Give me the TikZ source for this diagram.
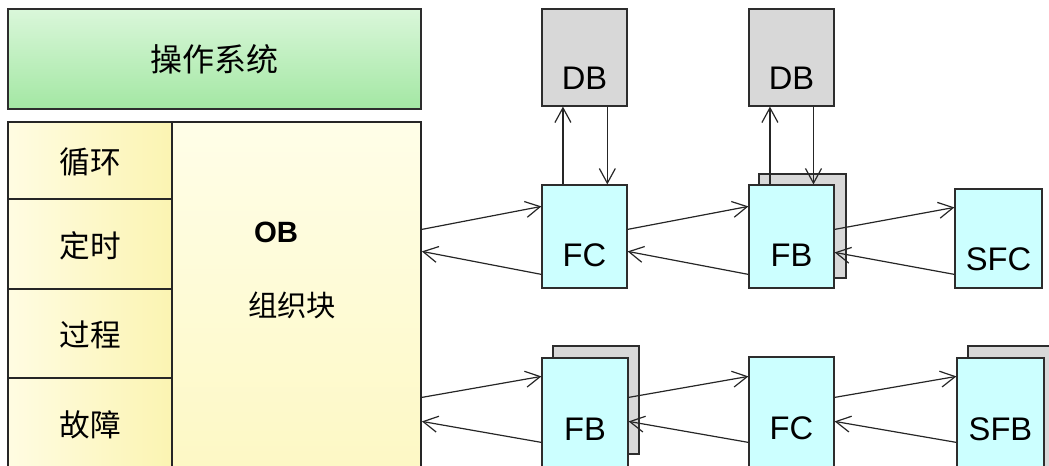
\documentclass[tikz,border=0pt]{standalone}
\usepackage{fontspec}
\setmainfont{Liberation Sans}
\newfontfamily\cjk{Noto Sans CJK SC}
\usetikzlibrary{arrows.meta,fit,calc}
\definecolor{osTop}{RGB}{218,247,218}
\definecolor{osBot}{RGB}{163,231,163}
\definecolor{cellL}{RGB}{255,252,226}
\definecolor{cellR}{RGB}{251,244,178}
\definecolor{obTop}{RGB}{255,254,232}
\definecolor{obBot}{RGB}{253,248,196}
\definecolor{cyanF}{RGB}{204,255,255}
\definecolor{grayF}{RGB}{216,216,216}
\definecolor{edge}{RGB}{45,45,45}
\begin{document}
\begin{tikzpicture}[x=0.75pt,y=-0.75pt,
  box/.style={draw=edge, line width=0.9pt, inner sep=0pt},
  cyanbox/.style={box, fill=cyanF},
  graybox/.style={box, fill=grayF},
  osbox/.style={box, line width=1.1pt, top color=osTop, bottom color=osBot},
  cellbox/.style={box, line width=1.3pt, draw=black!85, left color=cellL, right color=cellR},
  obbox/.style={box, line width=1.3pt, draw=black!85, top color=obTop, bottom color=obBot},
  lbl/.style={font=\fontsize{24.5}{28}\selectfont, inner sep=0pt},
  cnbig/.style={font=\cjk\fontsize{24}{28}\selectfont, inner sep=0pt},
  cn/.style={font=\cjk\fontsize{22}{26}\selectfont, inner sep=0pt},
  cncell/.style={font=\cjk\fontsize{23}{26}\selectfont, inner sep=0pt},
  obl/.style={font=\bfseries\fontsize{22}{26}\selectfont, inner sep=0pt},
  arr/.style={-{Straight Barb[length=11pt,width=12pt]}, line width=0.9pt, draw=black!85}
]
\useasboundingbox (0,0) rectangle (1049,466);

% operating system
\node[osbox, fit={(8,9)(421,109)}] (os) {};
\node[cnbig] (ost) at (os.center) {操作系统};

% OB block
\node[obbox, fit={(172,122)(421,475)}] (ob) {};
\node[cellbox, fit={(8,122)(172,199)}] (c1) {};
\node[cellbox, fit={(8,199)(172,289)}] (c2) {};
\node[cellbox, fit={(8,289)(172,378)}] (c3) {};
\node[cellbox, fit={(8,378)(172,475)}] (c4) {};
\node[cncell] (c1t) at (90,162) {循环};
\node[cncell] (c2t) at (90,246) {定时};
\node[cncell] (c3t) at (90,335) {过程};
\node[cncell] (c4t) at (90,425) {故障};
\node[obl] (obt) at (276,232) {OB};
\node[cn] (obt2) at (292,305) {组织块};

% top row
\node[graybox, fit={(542,9)(627,106)}] (db1) {};
\node[graybox, fit={(749,9)(834,106)}] (db2) {};
\node[cyanbox, fit={(542,185)(627,288)}] (fc1) {};
\node[graybox, fit={(759,174)(846,278)}] (fb1s) {};
\node[cyanbox, fit={(749,185)(834,288)}] (fb1) {};
\node[cyanbox, fit={(955,189)(1042,288)}] (sfc) {};
\node[lbl] (db1t) at ($(db1.north)+(0,70)$) {DB};
\node[lbl] (db2t) at ($(db2.north)+(0,70)$) {DB};
\node[lbl] (fc1t) at ($(fc1.north)+(0,71)$) {FC};
\node[lbl] (fb1t) at ($(fb1.north)+(0,71)$) {FB};
\node[lbl] (sfct) at ($(sfc.north)+(0,71)$) {SFC};

% bottom row
\node[graybox, fit={(553,346)(639,454)}] (fb2s) {};
\node[cyanbox, fit={(542,358)(628,475)}] (fb2) {};
\node[cyanbox, fit={(749,357)(834,475)}] (fc2) {};
\node[graybox, fit={(968,346)(1060,475)}] (sfbs) {};
\node[cyanbox, fit={(957,358)(1044,475)}] (sfb) {};
\node[lbl] (fb2t) at ($(fb2.north)+(0,72)$) {FB};
\node[lbl] (fc2t) at ($(fc2.north)+(0,72)$) {FC};
\node[lbl] (sfbt) at ($(sfb.north)+(0,72)$) {SFB};

% DB connections
\draw[arr] ($(fc1.north west)!0.25!(fc1.north east)$) -- ($(db1.south west)!0.25!(db1.south east)$);
\draw[arr] ($(db1.south west)!0.765!(db1.south east)$) -- ($(fc1.north west)!0.765!(fc1.north east)$);
\draw[arr] ($(fb1.north west)!0.25!(fb1.north east)$) -- ($(db2.south west)!0.25!(db2.south east)$);
\draw[arr] ($(db2.south west)!0.755!(db2.south east)$) -- ($(fb1.north west)!0.755!(fb1.north east)$);

% top row calls (row top y = 185)
\draw[arr] ([yshift=-33.75pt]ob.east |- fc1.north) -- ([yshift=-16.5pt]fc1.north west);
\draw[arr] ([yshift=-67.5pt]fc1.north west) -- ([yshift=-50.25pt]ob.east |- fc1.north);
\draw[arr] ([yshift=-33.75pt]fc1.north east) -- ([yshift=-16.5pt]fb1.north west);
\draw[arr] ([yshift=-67.5pt]fb1.north west) -- ([yshift=-50.25pt]fc1.north east);
\draw[arr] ([yshift=-33.75pt]fb1.north east) -- ([yshift=-17.25pt]sfc.west |- fb1.north);
\draw[arr] ([yshift=-67.5pt]sfc.west |- fb1.north) -- ([yshift=-51pt]fb1.north east);

% bottom row calls (row top y = 358)
\draw[arr] ([yshift=-30pt]ob.east |- fb2.north) -- ([yshift=-14.25pt]fb2.north west);
\draw[arr] ([yshift=-63.75pt]fb2.north west) -- ([yshift=-48pt]ob.east |- fb2.north);
\draw[arr] ([yshift=-30pt]fb2.north east) -- ([yshift=-14.25pt]fc2.west |- fb2.north);
\draw[arr] ([yshift=-63.75pt]fc2.west |- fb2.north) -- ([yshift=-48pt]fb2.north east);
\draw[arr] ([yshift=-30pt]fc2.east |- fb2.north) -- ([yshift=-14.25pt]sfb.north west);
\draw[arr] ([yshift=-63.75pt]sfb.north west) -- ([yshift=-48pt]fc2.east |- fb2.north);
\end{tikzpicture}
\end{document}
